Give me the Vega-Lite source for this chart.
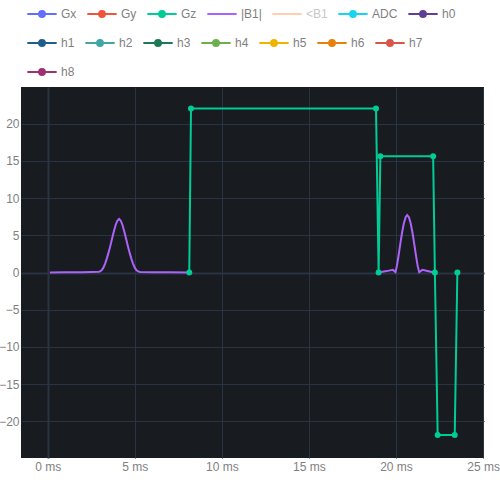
{
  "$schema": "https://vega.github.io/schema/vega-lite/v6.json",
  "width": 463,
  "height": 371,
  "autosize": {"type": "none"},
  "padding": {"left": 21, "top": 87, "right": 16, "bottom": 42},
  "background": "white",
  "config": {
    "view": {"fill": "#181b1f", "stroke": null},
    "font": "Liberation Sans",
    "axis": {
      "domain": false,
      "ticks": false,
      "labelFontSize": 12,
      "labelColor": "#7f7f7f",
      "gridColor": "#283442",
      "title": null
    },
    "legend": {
      "title": null,
      "orient": "none",
      "direction": "horizontal",
      "columns": 7,
      "gridAlign": "none",
      "columnPadding": 6,
      "rowPadding": 6,
      "padding": 0,
      "symbolSize": 860,
      "symbolStrokeWidth": 2,
      "labelOffset": 3,
      "labelFontSize": 12,
      "labelColor": "#7f7f7f"
    }
  },
  "data": {
    "values": [
      {"s": "|B1|", "seg": "a", "o": 1, "t": 0.13, "v": 0},
      {"s": "|B1|", "seg": "a", "o": 2, "t": 1.0, "v": 0.02},
      {"s": "|B1|", "seg": "a", "o": 3, "t": 2.0, "v": 0.05},
      {"s": "|B1|", "seg": "a", "o": 4, "t": 2.95, "v": 0.1},
      {"s": "|B1|", "seg": "a", "o": 5, "t": 3.0, "v": 0.15},
      {"s": "|B1|", "seg": "a", "o": 6, "t": 3.1, "v": 0.3},
      {"s": "|B1|", "seg": "a", "o": 7, "t": 3.2, "v": 0.65},
      {"s": "|B1|", "seg": "a", "o": 8, "t": 3.3, "v": 1.2},
      {"s": "|B1|", "seg": "a", "o": 9, "t": 3.4, "v": 1.9},
      {"s": "|B1|", "seg": "a", "o": 10, "t": 3.5, "v": 2.7},
      {"s": "|B1|", "seg": "a", "o": 11, "t": 3.6, "v": 3.6},
      {"s": "|B1|", "seg": "a", "o": 12, "t": 3.7, "v": 4.55},
      {"s": "|B1|", "seg": "a", "o": 13, "t": 3.8, "v": 5.5},
      {"s": "|B1|", "seg": "a", "o": 14, "t": 3.9, "v": 6.35},
      {"s": "|B1|", "seg": "a", "o": 15, "t": 4.0, "v": 6.95},
      {"s": "|B1|", "seg": "a", "o": 16, "t": 4.1, "v": 7.2},
      {"s": "|B1|", "seg": "a", "o": 17, "t": 4.2, "v": 6.95},
      {"s": "|B1|", "seg": "a", "o": 18, "t": 4.3, "v": 6.35},
      {"s": "|B1|", "seg": "a", "o": 19, "t": 4.4, "v": 5.5},
      {"s": "|B1|", "seg": "a", "o": 20, "t": 4.5, "v": 4.55},
      {"s": "|B1|", "seg": "a", "o": 21, "t": 4.6, "v": 3.6},
      {"s": "|B1|", "seg": "a", "o": 22, "t": 4.7, "v": 2.7},
      {"s": "|B1|", "seg": "a", "o": 23, "t": 4.8, "v": 1.9},
      {"s": "|B1|", "seg": "a", "o": 24, "t": 4.9, "v": 1.2},
      {"s": "|B1|", "seg": "a", "o": 25, "t": 5.0, "v": 0.65},
      {"s": "|B1|", "seg": "a", "o": 26, "t": 5.1, "v": 0.3},
      {"s": "|B1|", "seg": "a", "o": 27, "t": 5.2, "v": 0.15},
      {"s": "|B1|", "seg": "a", "o": 28, "t": 5.3, "v": 0.08},
      {"s": "|B1|", "seg": "a", "o": 29, "t": 6.0, "v": 0.04},
      {"s": "|B1|", "seg": "a", "o": 30, "t": 7.0, "v": 0.02},
      {"s": "|B1|", "seg": "a", "o": 31, "t": 8.13, "v": 0},
      {"s": "|B1|", "seg": "b", "o": 32, "t": 19.0, "v": 0},
      {"s": "|B1|", "seg": "b", "o": 33, "t": 19.3, "v": 0.12},
      {"s": "|B1|", "seg": "b", "o": 34, "t": 19.6, "v": 0.25},
      {"s": "|B1|", "seg": "b", "o": 35, "t": 19.82, "v": 0.35},
      {"s": "|B1|", "seg": "b", "o": 36, "t": 19.97, "v": 0.05},
      {"s": "|B1|", "seg": "b", "o": 37, "t": 20.05, "v": 0.89},
      {"s": "|B1|", "seg": "b", "o": 38, "t": 20.15, "v": 2.35},
      {"s": "|B1|", "seg": "b", "o": 39, "t": 20.25, "v": 3.92},
      {"s": "|B1|", "seg": "b", "o": 40, "t": 20.35, "v": 5.4},
      {"s": "|B1|", "seg": "b", "o": 41, "t": 20.45, "v": 6.61},
      {"s": "|B1|", "seg": "b", "o": 42, "t": 20.55, "v": 7.42},
      {"s": "|B1|", "seg": "b", "o": 43, "t": 20.64, "v": 7.7},
      {"s": "|B1|", "seg": "b", "o": 44, "t": 20.74, "v": 7.42},
      {"s": "|B1|", "seg": "b", "o": 45, "t": 20.84, "v": 6.61},
      {"s": "|B1|", "seg": "b", "o": 46, "t": 20.94, "v": 5.4},
      {"s": "|B1|", "seg": "b", "o": 47, "t": 21.04, "v": 3.92},
      {"s": "|B1|", "seg": "b", "o": 48, "t": 21.14, "v": 2.35},
      {"s": "|B1|", "seg": "b", "o": 49, "t": 21.24, "v": 0.89},
      {"s": "|B1|", "seg": "b", "o": 50, "t": 21.33, "v": 0.05},
      {"s": "|B1|", "seg": "b", "o": 51, "t": 21.52, "v": 0.35},
      {"s": "|B1|", "seg": "b", "o": 52, "t": 21.8, "v": 0.2},
      {"s": "|B1|", "seg": "b", "o": 53, "t": 22.0, "v": 0.1},
      {"s": "|B1|", "seg": "b", "o": 54, "t": 22.23, "v": 0},
      {"s": "Gz", "seg": "g", "o": 1, "t": 8.13, "v": 0},
      {"s": "Gz", "seg": "g", "o": 2, "t": 8.23, "v": 22.0},
      {"s": "Gz", "seg": "g", "o": 3, "t": 18.85, "v": 22.0},
      {"s": "Gz", "seg": "g", "o": 4, "t": 19.0, "v": 0},
      {"s": "Gz", "seg": "g", "o": 5, "t": 19.1, "v": 15.6},
      {"s": "Gz", "seg": "g", "o": 6, "t": 22.13, "v": 15.6},
      {"s": "Gz", "seg": "g", "o": 7, "t": 22.23, "v": 0},
      {"s": "Gz", "seg": "g", "o": 8, "t": 22.39, "v": -21.8},
      {"s": "Gz", "seg": "g", "o": 9, "t": 23.37, "v": -21.8},
      {"s": "Gz", "seg": "g", "o": 10, "t": 23.52, "v": 0}
    ]
  },
  "encoding": {
    "x": {
      "field": "t",
      "type": "quantitative",
      "scale": {"domain": [-1.53, 25.05], "nice": false, "zero": false},
      "axis": {
        "values": [0, 5, 10, 15, 20, 25],
        "labelExpr": "datum.value + ' ms'",
        "labelFlush": false,
        "labelPadding": 3,
        "gridWidth": {"condition": {"test": "datum.value === 0", "value": 2}, "value": 1}
      }
    },
    "y": {
      "field": "v",
      "type": "quantitative",
      "scale": {"domain": [-24.9, 24.9], "nice": false, "zero": false},
      "axis": {
        "values": [-20, -15, -10, -5, 0, 5, 10, 15, 20],
        "labelPadding": 2,
        "gridWidth": {"condition": {"test": "datum.value === 0", "value": 2}, "value": 1}
      }
    },
    "detail": {"field": "seg"},
    "order": {"field": "o", "type": "quantitative"}
  },
  "layer": [
    {
      "transform": [{"filter": "datum.s === '|B1|'"}],
      "mark": {"type": "line", "strokeWidth": 2},
      "encoding": {
        "color": {
          "field": "s",
          "type": "nominal",
          "scale": {
            "domain": ["Gx", "Gy", "Gz", "|B1|", "<B1", "ADC", "h0"],
            "range": ["#636efa", "#ef553b", "#00cc96", "#ab63fa", "#ffcfae", "#19d3f3", "#5e3f95"]
          },
          "legend": {
            "legendX": 5,
            "legendY": -89,
            "encode": {
              "symbols": {
                "update": {
                  "shape": {"signal": "(datum.value === '|B1|' || datum.value === '<B1') ? 'M-1,0L1,0' : 'M-1,0L1,0M0.2,0A0.2,0.2,0,1,1,-0.2,0A0.2,0.2,0,1,1,0.2,0Z'"},
                  "fill": {"scale": "color", "field": "value"},
                  "stroke": {"scale": "color", "field": "value"},
                  "strokeWidth": {"value": 2},
                  "opacity": {"value": 1},
                  "fillOpacity": {"value": 1},
                  "strokeOpacity": {"value": 1}
                }
              },
              "labels": {
                "update": {
                  "fill": {"signal": "datum.value === '<B1' ? '#c8c8c8' : '#7f7f7f'"}
                }
              }
            }
          }
        }
      }
    },
    {
      "transform": [{"filter": "datum.s === 'Gz'"}],
      "mark": {"type": "line", "strokeWidth": 2, "point": {"filled": true, "size": 36, "opacity": 1}},
      "encoding": {
        "color": {"field": "s", "type": "nominal"}
      }
    },
    {
      "transform": [{"filter": "datum.s === 'none'"}],
      "mark": {"type": "line", "strokeWidth": 2},
      "encoding": {
        "stroke": {
          "field": "s",
          "type": "nominal",
          "scale": {
            "domain": ["h1", "h2", "h3", "h4", "h5", "h6", "h7", "h8"],
            "range": ["#1f5f8b", "#40a6a6", "#1b7a55", "#6ab04c", "#f0b400", "#e8800c", "#d95449", "#9c3272"]
          },
          "legend": {
            "legendX": 5,
            "legendY": -60,
            "encode": {
              "symbols": {
                "update": {
                  "shape": {"signal": "'M-1,0L1,0M0.2,0A0.2,0.2,0,1,1,-0.2,0A0.2,0.2,0,1,1,0.2,0Z'"},
                  "fill": {"scale": "stroke", "field": "value"},
                  "stroke": {"scale": "stroke", "field": "value"},
                  "strokeWidth": {"value": 2},
                  "opacity": {"value": 1},
                  "fillOpacity": {"value": 1},
                  "strokeOpacity": {"value": 1}
                }
              }
            }
          }
        }
      }
    }
  ]
}
